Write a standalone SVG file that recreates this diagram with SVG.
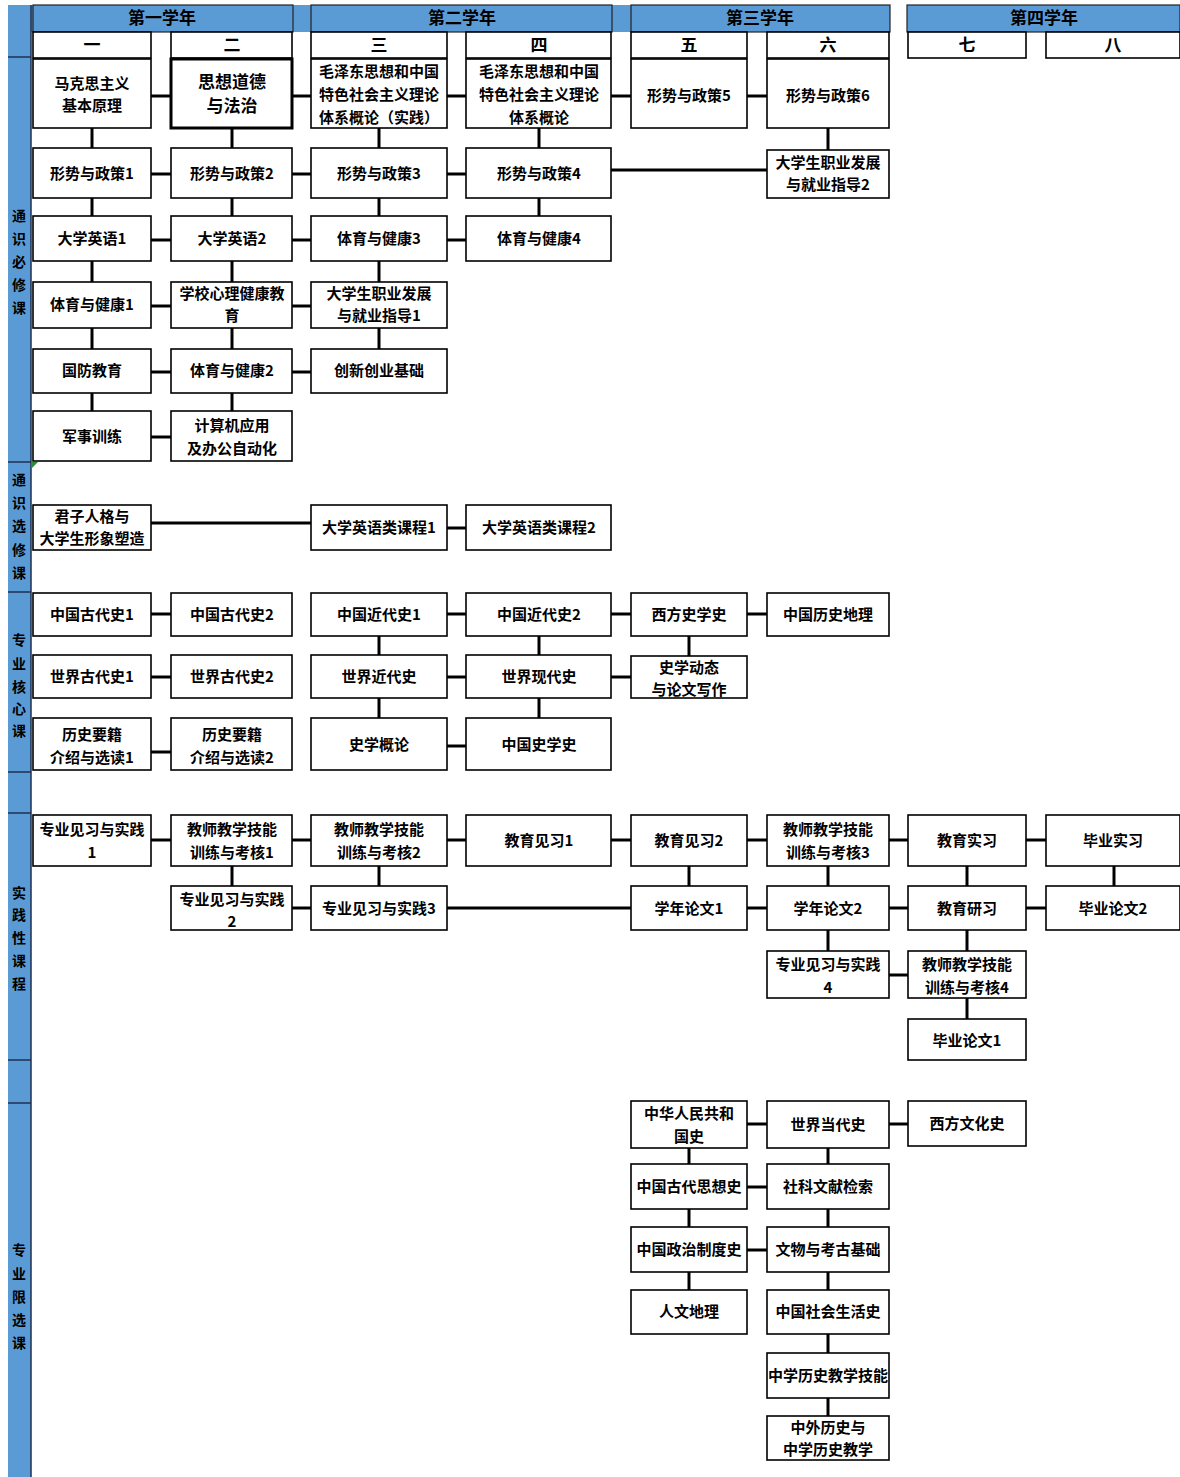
<svg xmlns="http://www.w3.org/2000/svg" width="1180" height="1477" viewBox="0 0 1180 1477">
<style>
.b{fill:#fff;stroke:#000;stroke-width:1.6}
.bk{fill:#fff;stroke:#000;stroke-width:3}
.t{font-family:"Noto Sans CJK SC","Noto Sans CJK JP",sans-serif;font-weight:bold;font-size:15px;text-anchor:middle;fill:#000}
.big{font-size:17px}
.s{font-size:14px}
.c line{stroke:#000;stroke-width:3}
.sep{stroke:#1f2f4f;stroke-width:1.5}
.hd{fill:#5b9bd5;stroke:#222;stroke-width:1.2}
</style>
<rect width="1180" height="1477" fill="#fff"/>
<g id="frame">
<rect x="8" y="5" width="882" height="27" fill="#5b9bd5"/>
<rect x="907" y="5" width="273" height="27" fill="#5b9bd5"/>
<rect x="8" y="5" width="23" height="1472" fill="#5b9bd5"/>
<line class="sep" x1="31" y1="5" x2="31" y2="1477"/>
<line class="sep" x1="8" y1="57" x2="31" y2="57"/>
<line class="sep" x1="8" y1="462" x2="31" y2="462"/>
<line class="sep" x1="8" y1="592" x2="31" y2="592"/>
<line class="sep" x1="8" y1="772" x2="31" y2="772"/>
<line class="sep" x1="8" y1="813" x2="31" y2="813"/>
<line class="sep" x1="8" y1="1060" x2="31" y2="1060"/>
<line class="sep" x1="8" y1="1103" x2="31" y2="1103"/>
<polygon points="31,462 38,462 31,469" fill="#2e8b3a"/>
</g>
<g id="years">
<rect class="hd" x="33" y="5" width="260" height="27"/>
<rect class="hd" x="311" y="5" width="301" height="27"/>
<rect class="hd" x="631" y="5" width="259" height="27"/>
<rect class="hd" x="907" y="5" width="273" height="27"/>
<text class="t big" x="162" y="24">第一学年</text>
<text class="t big" x="462" y="24">第二学年</text>
<text class="t big" x="760" y="24">第三学年</text>
<text class="t big" x="1044" y="24">第四学年</text>
</g>
<g id="semesters">
<rect class="b" x="33" y="32" width="118" height="26"/><text class="t big" x="92" y="51">一</text>
<rect class="b" x="171" y="32" width="121" height="26"/><text class="t big" x="232" y="51">二</text>
<rect class="b" x="311" y="32" width="136" height="26"/><text class="t big" x="379" y="51">三</text>
<rect class="b" x="466" y="32" width="145" height="26"/><text class="t big" x="539" y="51">四</text>
<rect class="b" x="631" y="32" width="116" height="26"/><text class="t big" x="689" y="51">五</text>
<rect class="b" x="767" y="32" width="122" height="26"/><text class="t big" x="828" y="51">六</text>
<rect class="b" x="908" y="32" width="118" height="26"/><text class="t big" x="967" y="51">七</text>
<rect class="b" x="1046" y="32" width="134" height="26"/><text class="t big" x="1113" y="51">八</text>
</g>
<g id="categories">
<text class="t s" x="19" y="221">通</text><text class="t s" x="19" y="244">识</text><text class="t s" x="19" y="267">必</text><text class="t s" x="19" y="290">修</text><text class="t s" x="19" y="313">课</text>
<text class="t s" x="19" y="485">通</text><text class="t s" x="19" y="508">识</text><text class="t s" x="19" y="531">选</text><text class="t s" x="19" y="555">修</text><text class="t s" x="19" y="578">课</text>
<text class="t s" x="19" y="645">专</text><text class="t s" x="19" y="669">业</text><text class="t s" x="19" y="692">核</text><text class="t s" x="19" y="714">心</text><text class="t s" x="19" y="736">课</text>
<text class="t s" x="19" y="898">实</text><text class="t s" x="19" y="920">践</text><text class="t s" x="19" y="943">性</text><text class="t s" x="19" y="966">课</text><text class="t s" x="19" y="989">程</text>
<text class="t s" x="19" y="1255">专</text><text class="t s" x="19" y="1279">业</text><text class="t s" x="19" y="1302">限</text><text class="t s" x="19" y="1325">选</text><text class="t s" x="19" y="1348">课</text>
</g>
<g id="connectors" class="c">
<line x1="151" y1="96" x2="171" y2="96"/><line x1="292" y1="96" x2="311" y2="96"/><line x1="447" y1="96" x2="466" y2="96"/><line x1="611" y1="96" x2="631" y2="96"/><line x1="747" y1="96" x2="767" y2="96"/>
<line x1="151" y1="174" x2="171" y2="174"/><line x1="292" y1="174" x2="311" y2="174"/><line x1="447" y1="174" x2="466" y2="174"/><line x1="611" y1="170" x2="767" y2="170"/>
<line x1="151" y1="240" x2="171" y2="240"/><line x1="292" y1="240" x2="311" y2="240"/><line x1="447" y1="240" x2="466" y2="240"/>
<line x1="151" y1="306" x2="171" y2="306"/><line x1="292" y1="306" x2="311" y2="306"/>
<line x1="151" y1="372" x2="171" y2="372"/><line x1="292" y1="372" x2="311" y2="372"/>
<line x1="151" y1="437" x2="171" y2="437"/>
<line x1="92" y1="128" x2="92" y2="148"/><line x1="92" y1="198" x2="92" y2="216"/><line x1="92" y1="261" x2="92" y2="282"/><line x1="92" y1="328" x2="92" y2="349"/><line x1="92" y1="393" x2="92" y2="411"/>
<line x1="232" y1="128" x2="232" y2="148"/><line x1="232" y1="198" x2="232" y2="216"/><line x1="232" y1="261" x2="232" y2="282"/><line x1="232" y1="328" x2="232" y2="349"/><line x1="232" y1="393" x2="232" y2="411"/>
<line x1="379" y1="128" x2="379" y2="148"/><line x1="379" y1="198" x2="379" y2="216"/><line x1="379" y1="261" x2="379" y2="282"/><line x1="379" y1="328" x2="379" y2="349"/>
<line x1="539" y1="128" x2="539" y2="148"/><line x1="539" y1="198" x2="539" y2="216"/>
<line x1="828" y1="128" x2="828" y2="150"/>
<line x1="151" y1="523" x2="311" y2="523"/><line x1="447" y1="528" x2="466" y2="528"/>
<line x1="151" y1="614" x2="171" y2="614"/><line x1="447" y1="614" x2="466" y2="614"/><line x1="611" y1="614" x2="631" y2="614"/><line x1="747" y1="614" x2="767" y2="614"/>
<line x1="151" y1="677" x2="171" y2="677"/><line x1="447" y1="677" x2="466" y2="677"/><line x1="611" y1="677" x2="631" y2="677"/>
<line x1="151" y1="752" x2="171" y2="752"/><line x1="447" y1="746" x2="466" y2="746"/>
<line x1="379" y1="636" x2="379" y2="655"/><line x1="379" y1="698" x2="379" y2="718"/>
<line x1="539" y1="636" x2="539" y2="655"/><line x1="539" y1="698" x2="539" y2="718"/>
<line x1="689" y1="636" x2="689" y2="656"/>
<line x1="151" y1="840" x2="171" y2="840"/><line x1="292" y1="840" x2="311" y2="840"/><line x1="447" y1="840" x2="466" y2="840"/><line x1="611" y1="840" x2="631" y2="840"/><line x1="747" y1="840" x2="767" y2="840"/><line x1="889" y1="840" x2="908" y2="840"/><line x1="1026" y1="840" x2="1046" y2="840"/>
<line x1="292" y1="908" x2="311" y2="908"/><line x1="447" y1="908" x2="631" y2="908"/><line x1="747" y1="908" x2="767" y2="908"/><line x1="889" y1="908" x2="908" y2="908"/><line x1="1026" y1="908" x2="1046" y2="908"/>
<line x1="889" y1="975" x2="908" y2="975"/>
<line x1="232" y1="866" x2="232" y2="886"/><line x1="379" y1="866" x2="379" y2="886"/><line x1="689" y1="866" x2="689" y2="886"/><line x1="828" y1="866" x2="828" y2="886"/><line x1="967" y1="866" x2="967" y2="886"/><line x1="1114" y1="866" x2="1114" y2="886"/>
<line x1="828" y1="930" x2="828" y2="951"/><line x1="967" y1="930" x2="967" y2="951"/><line x1="967" y1="998" x2="967" y2="1019"/>
<line x1="747" y1="1124" x2="767" y2="1124"/><line x1="889" y1="1124" x2="908" y2="1124"/>
<line x1="747" y1="1187" x2="767" y2="1187"/><line x1="747" y1="1250" x2="767" y2="1250"/>
<line x1="689" y1="1148" x2="689" y2="1164"/><line x1="689" y1="1209" x2="689" y2="1227"/><line x1="689" y1="1272" x2="689" y2="1290"/>
<line x1="828" y1="1148" x2="828" y2="1164"/><line x1="828" y1="1209" x2="828" y2="1227"/><line x1="828" y1="1272" x2="828" y2="1290"/><line x1="828" y1="1334" x2="828" y2="1353"/><line x1="828" y1="1398" x2="828" y2="1416"/>
</g>
<g id="n_mkszy"><rect class="b" x="33" y="59" width="118" height="69"/><text class="t" x="92" y="89">马克思主义</text><text class="t" x="92" y="111">基本原理</text></g>
<g id="n_sxdd"><rect class="bk" x="171" y="59" width="121" height="69"/><text class="t big" x="232" y="88">思想道德</text><text class="t big" x="232" y="112">与法治</text></g>
<g id="n_mzd1"><rect class="b" x="311" y="59" width="136" height="69"/><text class="t" x="379" y="77">毛泽东思想和中国</text><text class="t" x="379" y="100">特色社会主义理论</text><text class="t" x="379" y="123">体系概论（实践）</text></g>
<g id="n_mzd2"><rect class="b" x="466" y="59" width="145" height="69"/><text class="t" x="539" y="77">毛泽东思想和中国</text><text class="t" x="539" y="100">特色社会主义理论</text><text class="t" x="539" y="123">体系概论</text></g>
<g id="n_xs5"><rect class="b" x="631" y="59" width="116" height="69"/><text class="t" x="689" y="101">形势与政策5</text></g>
<g id="n_xs6"><rect class="b" x="767" y="59" width="122" height="69"/><text class="t" x="828" y="101">形势与政策6</text></g>
<g id="n_xs1"><rect class="b" x="33" y="148" width="118" height="50"/><text class="t" x="92" y="179">形势与政策1</text></g>
<g id="n_xs2"><rect class="b" x="171" y="148" width="121" height="50"/><text class="t" x="232" y="179">形势与政策2</text></g>
<g id="n_xs3"><rect class="b" x="311" y="148" width="136" height="50"/><text class="t" x="379" y="179">形势与政策3</text></g>
<g id="n_xs4"><rect class="b" x="466" y="148" width="145" height="50"/><text class="t" x="539" y="179">形势与政策4</text></g>
<g id="n_zy2"><rect class="b" x="767" y="150" width="122" height="48"/><text class="t" x="828" y="168">大学生职业发展</text><text class="t" x="828" y="190">与就业指导2</text></g>
<g id="n_yy1"><rect class="b" x="33" y="216" width="118" height="45"/><text class="t" x="92" y="244">大学英语1</text></g>
<g id="n_yy2"><rect class="b" x="171" y="216" width="121" height="45"/><text class="t" x="232" y="244">大学英语2</text></g>
<g id="n_ty3"><rect class="b" x="311" y="216" width="136" height="45"/><text class="t" x="379" y="244">体育与健康3</text></g>
<g id="n_ty4"><rect class="b" x="466" y="216" width="145" height="45"/><text class="t" x="539" y="244">体育与健康4</text></g>
<g id="n_ty1"><rect class="b" x="33" y="282" width="118" height="46"/><text class="t" x="92" y="310">体育与健康1</text></g>
<g id="n_xlxl"><rect class="b" x="171" y="282" width="121" height="46"/><text class="t" x="232" y="299">学校心理健康教</text><text class="t" x="232" y="321">育</text></g>
<g id="n_zy1"><rect class="b" x="311" y="282" width="136" height="46"/><text class="t" x="379" y="299">大学生职业发展</text><text class="t" x="379" y="321">与就业指导1</text></g>
<g id="n_gf"><rect class="b" x="33" y="349" width="118" height="44"/><text class="t" x="92" y="376">国防教育</text></g>
<g id="n_ty2"><rect class="b" x="171" y="349" width="121" height="44"/><text class="t" x="232" y="376">体育与健康2</text></g>
<g id="n_cx"><rect class="b" x="311" y="349" width="136" height="44"/><text class="t" x="379" y="376">创新创业基础</text></g>
<g id="n_js"><rect class="b" x="33" y="411" width="118" height="50"/><text class="t" x="92" y="442">军事训练</text></g>
<g id="n_jsj"><rect class="b" x="171" y="411" width="121" height="50"/><text class="t" x="232" y="431">计算机应用</text><text class="t" x="232" y="454">及办公自动化</text></g>
<g id="n_jz"><rect class="b" x="33" y="505" width="118" height="45"/><text class="t" x="92" y="522">君子人格与</text><text class="t" x="92" y="544">大学生形象塑造</text></g>
<g id="n_yyl1"><rect class="b" x="311" y="505" width="136" height="45"/><text class="t" x="379" y="533">大学英语类课程1</text></g>
<g id="n_yyl2"><rect class="b" x="466" y="505" width="145" height="45"/><text class="t" x="539" y="533">大学英语类课程2</text></g>
<g id="n_zggd1"><rect class="b" x="33" y="593" width="118" height="43"/><text class="t" x="92" y="620">中国古代史1</text></g>
<g id="n_zggd2"><rect class="b" x="171" y="593" width="121" height="43"/><text class="t" x="232" y="620">中国古代史2</text></g>
<g id="n_zgjd1"><rect class="b" x="311" y="593" width="136" height="43"/><text class="t" x="379" y="620">中国近代史1</text></g>
<g id="n_zgjd2"><rect class="b" x="466" y="593" width="145" height="43"/><text class="t" x="539" y="620">中国近代史2</text></g>
<g id="n_xfsx"><rect class="b" x="631" y="593" width="116" height="43"/><text class="t" x="689" y="620">西方史学史</text></g>
<g id="n_lsdl"><rect class="b" x="767" y="593" width="122" height="43"/><text class="t" x="828" y="620">中国历史地理</text></g>
<g id="n_sjgd1"><rect class="b" x="33" y="655" width="118" height="43"/><text class="t" x="92" y="682">世界古代史1</text></g>
<g id="n_sjgd2"><rect class="b" x="171" y="655" width="121" height="43"/><text class="t" x="232" y="682">世界古代史2</text></g>
<g id="n_sjjd"><rect class="b" x="311" y="655" width="136" height="43"/><text class="t" x="379" y="682">世界近代史</text></g>
<g id="n_sjxd"><rect class="b" x="466" y="655" width="145" height="43"/><text class="t" x="539" y="682">世界现代史</text></g>
<g id="n_sxdt"><rect class="b" x="631" y="656" width="116" height="42"/><text class="t" x="689" y="673">史学动态</text><text class="t" x="689" y="695">与论文写作</text></g>
<g id="n_yj1"><rect class="b" x="33" y="718" width="118" height="52"/><text class="t" x="92" y="740">历史要籍</text><text class="t" x="92" y="763">介绍与选读1</text></g>
<g id="n_yj2"><rect class="b" x="171" y="718" width="121" height="52"/><text class="t" x="232" y="740">历史要籍</text><text class="t" x="232" y="763">介绍与选读2</text></g>
<g id="n_sxgl"><rect class="b" x="311" y="718" width="136" height="52"/><text class="t" x="379" y="750">史学概论</text></g>
<g id="n_zgsxs"><rect class="b" x="466" y="718" width="145" height="52"/><text class="t" x="539" y="750">中国史学史</text></g>
<g id="n_sj1"><rect class="b" x="33" y="815" width="118" height="51"/><text class="t" x="92" y="835">专业见习与实践</text><text class="t" x="92" y="858">1</text></g>
<g id="n_jn1"><rect class="b" x="171" y="815" width="121" height="51"/><text class="t" x="232" y="835">教师教学技能</text><text class="t" x="232" y="858">训练与考核1</text></g>
<g id="n_jn2"><rect class="b" x="311" y="815" width="136" height="51"/><text class="t" x="379" y="835">教师教学技能</text><text class="t" x="379" y="858">训练与考核2</text></g>
<g id="n_jx1"><rect class="b" x="466" y="815" width="145" height="51"/><text class="t" x="539" y="846">教育见习1</text></g>
<g id="n_jx2"><rect class="b" x="631" y="815" width="116" height="51"/><text class="t" x="689" y="846">教育见习2</text></g>
<g id="n_jn3"><rect class="b" x="767" y="815" width="122" height="51"/><text class="t" x="828" y="835">教师教学技能</text><text class="t" x="828" y="858">训练与考核3</text></g>
<g id="n_jysx"><rect class="b" x="908" y="815" width="118" height="51"/><text class="t" x="967" y="846">教育实习</text></g>
<g id="n_bysx"><rect class="b" x="1046" y="815" width="134" height="51"/><text class="t" x="1113" y="846">毕业实习</text></g>
<g id="n_sj2"><rect class="b" x="171" y="886" width="121" height="44"/><text class="t" x="232" y="905">专业见习与实践</text><text class="t" x="232" y="927">2</text></g>
<g id="n_sj3"><rect class="b" x="311" y="886" width="136" height="44"/><text class="t" x="379" y="914">专业见习与实践3</text></g>
<g id="n_xnlw1"><rect class="b" x="631" y="886" width="116" height="44"/><text class="t" x="689" y="914">学年论文1</text></g>
<g id="n_xnlw2"><rect class="b" x="767" y="886" width="122" height="44"/><text class="t" x="828" y="914">学年论文2</text></g>
<g id="n_jyyx"><rect class="b" x="908" y="886" width="118" height="44"/><text class="t" x="967" y="914">教育研习</text></g>
<g id="n_bylw2"><rect class="b" x="1046" y="886" width="134" height="44"/><text class="t" x="1113" y="914">毕业论文2</text></g>
<g id="n_sj4"><rect class="b" x="767" y="951" width="122" height="47"/><text class="t" x="828" y="970">专业见习与实践</text><text class="t" x="828" y="993">4</text></g>
<g id="n_jn4"><rect class="b" x="908" y="951" width="118" height="47"/><text class="t" x="967" y="970">教师教学技能</text><text class="t" x="967" y="993">训练与考核4</text></g>
<g id="n_bylw1"><rect class="b" x="908" y="1019" width="118" height="41"/><text class="t" x="967" y="1046">毕业论文1</text></g>
<g id="n_gs"><rect class="b" x="631" y="1101" width="116" height="47"/><text class="t" x="689" y="1119">中华人民共和</text><text class="t" x="689" y="1142">国史</text></g>
<g id="n_sjdd"><rect class="b" x="767" y="1101" width="122" height="47"/><text class="t" x="828" y="1130">世界当代史</text></g>
<g id="n_xfwh"><rect class="b" x="908" y="1101" width="118" height="45"/><text class="t" x="967" y="1129">西方文化史</text></g>
<g id="n_sxs"><rect class="b" x="631" y="1164" width="116" height="45"/><text class="t" x="689" y="1192">中国古代思想史</text></g>
<g id="n_wxjs"><rect class="b" x="767" y="1164" width="122" height="45"/><text class="t" x="828" y="1192">社科文献检索</text></g>
<g id="n_zzzd"><rect class="b" x="631" y="1227" width="116" height="45"/><text class="t" x="689" y="1255">中国政治制度史</text></g>
<g id="n_kg"><rect class="b" x="767" y="1227" width="122" height="45"/><text class="t" x="828" y="1255">文物与考古基础</text></g>
<g id="n_rwdl"><rect class="b" x="631" y="1290" width="116" height="44"/><text class="t" x="689" y="1317">人文地理</text></g>
<g id="n_shsh"><rect class="b" x="767" y="1290" width="122" height="44"/><text class="t" x="828" y="1317">中国社会生活史</text></g>
<g id="n_jxjn"><rect class="b" x="767" y="1353" width="122" height="45"/><text class="t" x="828" y="1381">中学历史教学技能</text></g>
<g id="n_zwls"><rect class="b" x="767" y="1416" width="122" height="44"/><text class="t" x="828" y="1433">中外历史与</text><text class="t" x="828" y="1455">中学历史教学</text></g>
</svg>
